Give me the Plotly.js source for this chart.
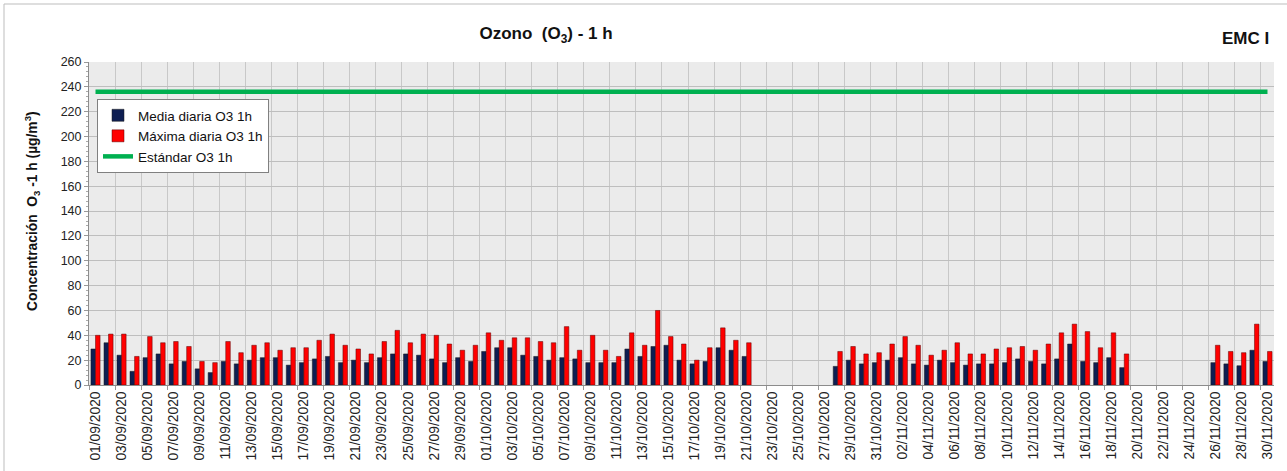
<!DOCTYPE html>
<html>
<head>
<meta charset="utf-8">
<script src="https://cdn.plot.ly/plotly-3.0.1.min.js"></script>
<style>
html,body{margin:0;padding:0;background:#fff;}
#chart{width:1287px;height:471px;}
</style>
</head>
<body>
<div id="chart"></div>
<script>
const dates = [
"01/09/2020","02/09/2020","03/09/2020","04/09/2020","05/09/2020","06/09/2020","07/09/2020","08/09/2020","09/09/2020","10/09/2020",
"11/09/2020","12/09/2020","13/09/2020","14/09/2020","15/09/2020","16/09/2020","17/09/2020","18/09/2020","19/09/2020","20/09/2020",
"21/09/2020","22/09/2020","23/09/2020","24/09/2020","25/09/2020","26/09/2020","27/09/2020","28/09/2020","29/09/2020","30/09/2020",
"01/10/2020","02/10/2020","03/10/2020","04/10/2020","05/10/2020","06/10/2020","07/10/2020","08/10/2020","09/10/2020","10/10/2020",
"11/10/2020","12/10/2020","13/10/2020","14/10/2020","15/10/2020","16/10/2020","17/10/2020","18/10/2020","19/10/2020","20/10/2020",
"21/10/2020","22/10/2020","23/10/2020","24/10/2020","25/10/2020","26/10/2020","27/10/2020","28/10/2020","29/10/2020","30/10/2020",
"31/10/2020",
"01/11/2020","02/11/2020","03/11/2020","04/11/2020","05/11/2020","06/11/2020","07/11/2020","08/11/2020","09/11/2020","10/11/2020",
"11/11/2020","12/11/2020","13/11/2020","14/11/2020","15/11/2020","16/11/2020","17/11/2020","18/11/2020","19/11/2020","20/11/2020",
"21/11/2020","22/11/2020","23/11/2020","24/11/2020","25/11/2020","26/11/2020","27/11/2020","28/11/2020","29/11/2020","30/11/2020"
];

const mediaDiaria = [
29,34,24,11,22,25,17,19,13,10,
19,17,20,22,22,16,18,21,23,18,
20,18,22,25,25,24,21,18,22,19,
27,30,30,24,23,20,22,21,18,18,
18,29,23,31,32,20,17,19,30,28,
23,null,null,null,null,null,null,15,20,17,
18,
20,22,17,16,20,18,16,17,17,18,
21,19,17,21,33,19,18,22,14,null,
null,null,null,null,null,18,17,15.5,28,19
];

const maximaDiaria = [
40,41,41,23,39,34,35,31,19,18,
35,26,32,34,28,30,30,36,41,32,
29,25,35,44,34,41,40,33,28,32,
42,36,38,38,35,34,47,28,40,28,
23,42,32,60,39,33,20,30,46,36,
34,null,null,null,null,null,null,27,31,25,
26,
33,39,32,24,28,34,25,25,29,30,
31,28,33,42,49,43,30,42,25,null,
null,null,null,null,null,32,27,26,49,27
];

const estandar = 236;

const yTicks = [0,20,40,60,80,100,120,140,160,180,200,220,240,260];

const FONT = "Liberation Sans, Arial, sans-serif";

const traces = [
  {
    type: "bar", name: "Media diaria O3 1h", x: dates, y: mediaDiaria,
    marker: {color: "#0E1E52", line: {color: "#1a1a1a", width: 0.5}},
    hoverinfo: "x+y"
  },
  {
    type: "bar", name: "Máxima diaria O3 1h", x: dates, y: maximaDiaria,
    marker: {color: "#FF0000", line: {color: "#5a0000", width: 0.5}},
    hoverinfo: "x+y"
  },
  {
    type: "scatter", mode: "lines", name: "Estándar O3 1h",
    x: dates, y: dates.map(() => estandar),
    line: {color: "#00B050", width: 4.5}
  }
];

const layout = {
  width: 1287, height: 471,
  margin: {l: 89, r: 13, t: 62, b: 86, pad: 0},
  paper_bgcolor: "#FFFFFF",
  plot_bgcolor: "#EBEBEB",
  font: {family: FONT, size: 12.5, color: "#222"},
  showlegend: true,
  barmode: "group",
  bargap: 0.3,
  bargroupgap: 0,
  title: {
    text: "<b>Ozono  (O<sub>3</sub>) - 1 h</b>",
    font: {family: FONT, size: 17, color: "#111"},
    x: 546/1287, xanchor: "center", xref: "container",
    y: 1 - 33/471, yanchor: "middle", yref: "container"
  },
  xaxis: {
    type: "category",
    range: [-0.5, dates.length - 0.5],
    tickmode: "linear", tick0: 0, dtick: 2,
    tickson: "boundaries",
    tickangle: -90,
    ticks: "outside", ticklen: 4, tickcolor: "#999",
    showgrid: true, gridcolor: "#C8C8C8", gridwidth: 1,
    showline: true, linecolor: "#8C8C8C", linewidth: 1,
    tickfont: {family: FONT, size: 13.8, color: "#222"},
    fixedrange: true, automargin: false
  },
  yaxis: {
    range: [0, 260],
    tickmode: "array", tickvals: yTicks, ticktext: yTicks.map(String),
    ticks: "outside", ticklen: 4, tickcolor: "#999",
    minor: {dtick: 4, ticks: "outside", ticklen: 2, tickcolor: "#AAA", showgrid: false},
    showgrid: true, gridcolor: "#BEBEBE", gridwidth: 1,
    showline: true, linecolor: "#8C8C8C", linewidth: 1,
    zeroline: false,
    tickfont: {family: FONT, size: 12.5, color: "#222"},
    fixedrange: true, automargin: false
  },
  legend: {
    x: (97-89)/1185, y: (385-99)/323, xanchor: "left", yanchor: "top",
    bgcolor: "#FFFFFF", bordercolor: "#808080", borderwidth: 1,
    font: {family: FONT, size: 13.5, color: "#111"},
    tracegroupgap: 0, itemwidth: 30,
    traceorder: "normal"
  },
  annotations: [
    {
      text: "<b>EMC I</b>", showarrow: false,
      xref: "paper", yref: "paper",
      x: (1271-89)/1185, xanchor: "right",
      y: (385-38)/323, yanchor: "middle",
      font: {family: FONT, size: 17, color: "#111"}
    },
    {
      text: "<b>Concentración  O<sub>3</sub> -1 h (µg/m<sup>3</sup>)</b>",
      showarrow: false, textangle: -90,
      xref: "paper", yref: "paper",
      x: (32-89)/1185, xanchor: "center",
      y: (385-211)/323, yanchor: "middle",
      font: {family: FONT, size: 13.8, color: "#111"}
    }
  ],
  shapes: [
    {type: "line", xref: "paper", yref: "paper",
     x0: (4-89)/1185, x1: (1290-89)/1185, y0: (385-4)/323, y1: (385-4)/323,
     line: {color: "#BDBDBD", width: 1}},
    {type: "line", xref: "paper", yref: "paper",
     x0: (4-89)/1185, x1: (4-89)/1185, y0: (385-4)/323, y1: (385-475)/323,
     line: {color: "#BDBDBD", width: 1}}
  ]
};

Plotly.newPlot("chart", traces, layout, {displayModeBar: false, staticPlot: true});
</script>
</body>
</html>
